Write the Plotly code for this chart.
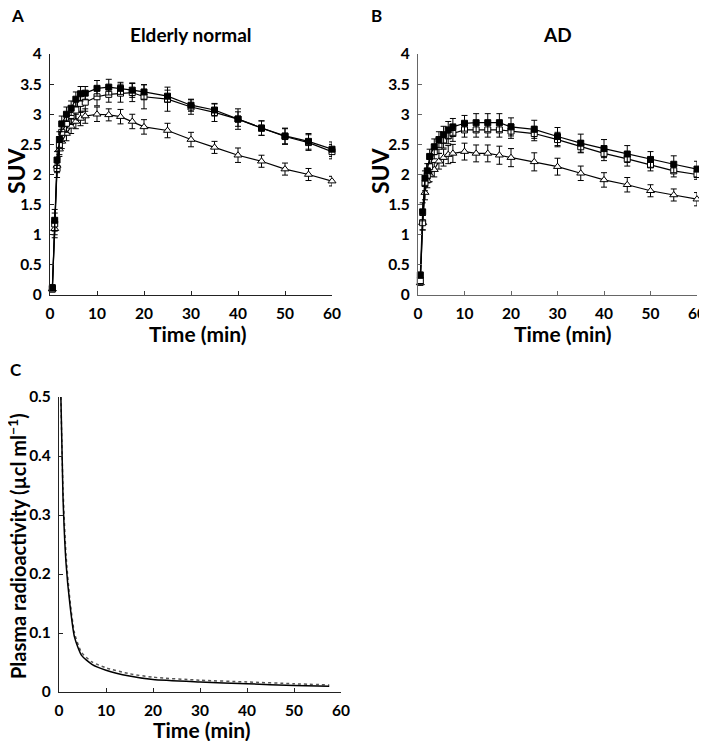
import plotly.graph_objects as go

# ---------------- data ----------------
time_pts = [0.5, 1, 1.5, 2, 2.5, 3.5, 4.5, 5.5, 6.5, 7.5, 10, 12.5, 15, 17.5, 20, 25, 30, 35, 40, 45, 50, 55, 60]

# Panel A: Elderly normal
a_filled = [0.12, 1.24, 2.24, 2.58, 2.84, 3.00, 3.10, 3.25, 3.34, 3.35, 3.43, 3.45, 3.43, 3.40, 3.37, 3.30, 3.15, 3.07, 2.92, 2.77, 2.64, 2.55, 2.42]
a_filled_err = [0.05, 0.18, 0.14, 0.13, 0.13, 0.12, 0.12, 0.12, 0.12, 0.11, 0.13, 0.13, 0.10, 0.12, 0.12, 0.10, 0.10, 0.10, 0.17, 0.12, 0.13, 0.13, 0.12]
a_open = [0.10, 1.18, 2.10, 2.48, 2.70, 2.85, 2.98, 3.07, 3.18, 3.20, 3.29, 3.33, 3.35, 3.36, 3.29, 3.25, 3.12, 3.03, 2.92, 2.77, 2.63, 2.53, 2.38]
a_open_err = [0.05, 0.18, 0.15, 0.15, 0.15, 0.15, 0.15, 0.15, 0.15, 0.15, 0.15, 0.13, 0.15, 0.15, 0.20, 0.20, 0.12, 0.15, 0.12, 0.12, 0.13, 0.13, 0.12]
a_tri = [0.10, 1.10, 2.15, 2.42, 2.55, 2.68, 2.80, 2.88, 2.93, 2.97, 3.00, 2.99, 2.96, 2.88, 2.79, 2.73, 2.58, 2.45, 2.32, 2.22, 2.09, 2.00, 1.89]
a_tri_err = [0.04, 0.15, 0.12, 0.12, 0.12, 0.12, 0.12, 0.12, 0.12, 0.12, 0.12, 0.10, 0.12, 0.12, 0.12, 0.12, 0.12, 0.10, 0.12, 0.10, 0.10, 0.10, 0.08]

# Panel B: AD
b_filled = [0.33, 1.38, 1.94, 2.06, 2.30, 2.46, 2.58, 2.66, 2.74, 2.79, 2.85, 2.86, 2.86, 2.86, 2.79, 2.75, 2.63, 2.52, 2.43, 2.34, 2.25, 2.17, 2.09]
b_filled_err = [0.05, 0.15, 0.12, 0.12, 0.12, 0.13, 0.13, 0.14, 0.14, 0.14, 0.13, 0.15, 0.15, 0.15, 0.15, 0.15, 0.15, 0.15, 0.15, 0.14, 0.13, 0.14, 0.13]
b_open = [0.24, 1.20, 1.85, 1.98, 2.13, 2.38, 2.47, 2.57, 2.64, 2.68, 2.74, 2.74, 2.74, 2.74, 2.72, 2.68, 2.58, 2.46, 2.35, 2.26, 2.16, 2.06, 2.00]
b_open_err = [0.05, 0.12, 0.12, 0.12, 0.12, 0.12, 0.12, 0.13, 0.13, 0.13, 0.12, 0.12, 0.12, 0.12, 0.12, 0.12, 0.12, 0.10, 0.12, 0.12, 0.10, 0.10, 0.08]
b_tri = [0.20, 1.20, 1.70, 1.90, 2.00, 2.08, 2.22, 2.28, 2.33, 2.35, 2.38, 2.35, 2.35, 2.32, 2.28, 2.21, 2.13, 2.02, 1.91, 1.83, 1.73, 1.66, 1.59]
b_tri_err = [0.04, 0.12, 0.12, 0.12, 0.12, 0.12, 0.13, 0.14, 0.15, 0.15, 0.14, 0.14, 0.14, 0.15, 0.15, 0.15, 0.14, 0.12, 0.12, 0.12, 0.10, 0.10, 0.11]

# Panel C: plasma radioactivity
c_time = [0.4, 0.85, 1.5, 2.3, 3.3, 4.8, 7, 10, 15, 20, 30, 40, 50, 57.5]
c_solid = [0.50, 0.33, 0.218, 0.15, 0.093, 0.062, 0.047, 0.037, 0.027, 0.021, 0.017, 0.014, 0.011, 0.0096]
c_dotted = [0.50, 0.345, 0.232, 0.158, 0.10, 0.067, 0.051, 0.041, 0.031, 0.025, 0.020, 0.017, 0.014, 0.012]

x_ticks = [0, 10, 20, 30, 40, 50, 60]
suv_ticks = [0, 0.5, 1, 1.5, 2, 2.5, 3, 3.5, 4]
c_ticks = [0, 0.1, 0.2, 0.3, 0.4, 0.5]

FONT = "Lato"
W, H = 707, 741
OFF = 8  # the page places the figure 8 px in from the top-left corner

fig = go.Figure()

def add_series(x, y, err, symbol, fill, xa, ya, name):
    fig.add_trace(go.Scatter(
        x=x, y=y, mode="lines+markers", name=name, xaxis=xa, yaxis=ya,
        line=dict(color="black", width=1.2),
        marker=dict(symbol=symbol, size=6 if "triangle" not in symbol else 7,
                    color=fill, line=dict(color="black", width=1)),
        error_y=dict(type="data", array=err, visible=True, color="black", thickness=1, width=3),
        showlegend=False, cliponaxis=False))

add_series(time_pts, a_tri, a_tri_err, "triangle-up", "white", "x", "y", "A tri")
add_series(time_pts, a_open, a_open_err, "square", "white", "x", "y", "A open")
add_series(time_pts, a_filled, a_filled_err, "square", "black", "x", "y", "A filled")

add_series(time_pts, b_tri, b_tri_err, "triangle-up", "white", "x2", "y2", "B tri")
add_series(time_pts, b_open, b_open_err, "square", "white", "x2", "y2", "B open")
add_series(time_pts, b_filled, b_filled_err, "square", "black", "x2", "y2", "B filled")

fig.add_trace(go.Scatter(x=c_time, y=c_dotted, mode="lines", xaxis="x3", yaxis="y3",
                         line=dict(color="#555555", width=1.5, dash="dot", shape="spline", smoothing=0.6),
                         showlegend=False))
fig.add_trace(go.Scatter(x=c_time, y=c_solid, mode="lines", xaxis="x3", yaxis="y3",
                         line=dict(color="black", width=1.5, shape="spline", smoothing=0.6),
                         showlegend=False))

def px(x):
    return (x - OFF) / W

def py(y):
    return 1 - (y - OFF) / H

def dom_x(a, b):
    return [px(a), px(b)]

def dom_y(top, bottom):
    return [py(bottom), py(top)]

tickfont = dict(family=FONT, size=15.5, color="black", weight="bold")

def axis_style(color):
    return dict(showgrid=False, zeroline=False, showline=True, linecolor=color, linewidth=1.2,
                ticks="inside", ticklen=4, tickcolor=color, tickwidth=1, ticklabelstandoff=4,
                tickfont=tickfont, automargin=False)

fig.update_layout(
    width=W, height=H, margin=dict(l=0, r=0, t=0, b=0, autoexpand=False),
    paper_bgcolor="white", plot_bgcolor="white",
    xaxis=dict(domain=dom_x(50, 332), range=[0, 60], tickvals=x_ticks, anchor="y", **axis_style("#222222")),
    yaxis=dict(domain=dom_y(54, 295), range=[0, 4], tickvals=suv_ticks, anchor="x", **axis_style("#222222")),
    xaxis2=dict(domain=dom_x(418, 697), range=[0, 60], tickvals=x_ticks, anchor="y2", **axis_style("#666666")),
    yaxis2=dict(domain=dom_y(54, 295), range=[0, 4], tickvals=suv_ticks, anchor="x2", **axis_style("#666666")),
    xaxis3=dict(domain=dom_x(59, 341), range=[0, 60], tickvals=x_ticks, anchor="y3", **axis_style("#222222")),
    yaxis3=dict(domain=dom_y(397, 692), range=[0, 0.5], tickvals=c_ticks, anchor="x3", **axis_style("#222222")),
)

def label(text, x, y, size, angle=0, xanchor="center"):
    fig.add_annotation(text=text, x=px(x), y=py(y), xref="paper", yref="paper",
                       xanchor=xanchor, yanchor="middle", textangle=angle, showarrow=False,
                       font=dict(family=FONT, size=size, color="black", weight="bold"))

# panel titles
label("Elderly normal", 191, 34, 19)
label("AD", 557, 34, 19)
# panel letters
label("A", 9, 16, 17, xanchor="left")
label("B", 369, 16, 17, xanchor="left")
label("C", 8, 370, 17, xanchor="left")
# axis titles
label("Time (min)", 198, 333, 21)
label("Time (min)", 563, 333, 21)
label("Time (min)", 202, 729, 21)
label("SUV", 16, 171, 23, angle=-90)
label("SUV", 380, 171, 23, angle=-90)
label("Plasma radioactivity (µcl ml<sup>−1</sup>)", 17, 546, 20, angle=-90)

fig.write_html("out.html")
